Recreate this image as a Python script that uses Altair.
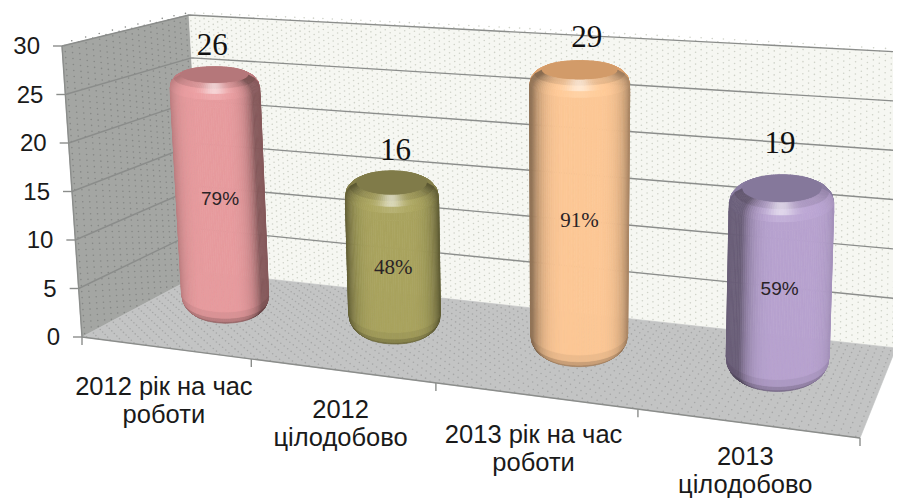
import numpy as np
import pandas as pd
import altair as alt

categories = ["2012 рік на час\nроботи", "2012\nцілодобово", "2013 рік на час\nроботи", "2013\nцілодобово"]
values = [26, 16, 29, 19]
shares = ["79%", "48%", "91%", "59%"]
share_fonts = ["Liberation Sans", "Liberation Serif", "Liberation Serif", "Liberation Sans"]
body_colors = ["#e89c9f", "#aaa45f", "#fdc896", "#b8a3d0"]
cap_colors = ["#b5777a", "#807b49", "#d29b69", "#85789b"]
light_shift = [-0.15, 0.0, 0.05, 0.25]
cyl_shift = [-9, -6, -2, 0]
height_trim = [0.1, 0.55, 0.15, 0.7]
value_nudge = [(-2, 0), (4, 1), (7, -2), (-2, -10)]
share_nudge = [3, 10, 7, 5]
y_ticks = [0, 5, 10, 15, 20, 25, 30]

# the box of the 3-D chart: its floor is a projective map of (category, depth)
def homography(src, dst):
    A = []
    for (x, y), (u, v) in zip(src, dst):
        A.append([x, y, 1, 0, 0, 0, -u*x, -u*y, -u])
        A.append([0, 0, 0, x, y, 1, -v*x, -v*y, -v])
    return np.linalg.svd(np.array(A, float))[2][-1].reshape(3, 3)

unit = [(0, 0), (4, 0), (4, 1), (0, 1)]
H_floor = homography(unit, [(82, 337), (860, 438), (896, 348), (204, 272)])

def proj(c, v, d):
    a = H_floor @ np.array([c, d, 1.0])
    a = a[:2] / a[2]
    s, d1 = c / 4, 1 - d
    # lean and height of the full 0-30 span, blended over the four corners of the floor
    dx = (1-s)*(d1*-20 + d*-15) + s*(d1*20 + d*5)
    hh = (1-s)*(d1*291 + d*257) + s*(d1*335 + d*296)
    f = v / 30
    return a[0] + dx * f, a[1] - hh * f

def mix(col, f, white=0.0):
    rgb = np.array([int(col[i:i+2], 16) for i in (1, 3, 5)], float) * f
    rgb = rgb + (255 - rgb) * white
    rgb = np.clip(rgb, 0, 255).astype(int)
    return "#%02x%02x%02x" % tuple(rgb)

polys = []
def add_poly(corners, fill, stroke=None):
    gid = len(polys)
    polys.append(gid)
    for i, (x, y) in enumerate(corners):
        rows.append(dict(px=x, py=y, gid=gid, o=i, fill=fill, stroke=stroke or fill))

rows = []
add_poly([proj(0,0,0), proj(0,30,0), proj(0,30,1), proj(0,0,1)], "#a4a6a3")
add_poly([proj(0,0,1), proj(0,30,1), proj(4,30,1), proj(4,0,1)], "#f6f7f2")
add_poly([proj(0,0,0), proj(0,0,1), proj(4,0,1), proj(4,0,0)], "#c3c4c4")
walls = pd.DataFrame(rows)

# dotted texture of the walls and the floor
dots = []
for i, c in enumerate(np.arange(0.01, 4.0, 0.029)):
    for j, v in enumerate(np.arange(0.2, 30, 0.62)):
        dots.append((*proj(c, v + (0.31 if i % 2 else 0), 1), "#cfd2c8"))
for i, c in enumerate(np.arange(0.02, 4.0, 0.036)):
    for j, d in enumerate(np.arange(0.01, 1.0, 0.05)):
        dots.append((*proj(c, 0, d + (0.025 if i % 2 else 0)), "#a6a7a7"))
for i, d in enumerate(np.arange(0.02, 1.0, 0.05)):
    for j, v in enumerate(np.arange(0.2, 30, 0.62)):
        dots.append((*proj(0, v + (0.31 if i % 2 else 0), d), "#868886"))
dots = pd.DataFrame(dots, columns=["px", "py", "col"])

# grid lines
grid = []
for v in y_ticks[1:]:
    for k, pt in enumerate([proj(0, v, 0), proj(0, v, 1), proj(4, v, 1)]):
        grid.append(dict(px=pt[0], py=pt[1], gid=v, o=k))
for k, pt in enumerate([proj(0,0,0), proj(4,0,0)]):
    grid.append(dict(px=pt[0], py=pt[1], gid=100, o=k))
for k, pt in enumerate([proj(0,0,0), proj(0,30,0)]):
    grid.append(dict(px=pt[0], py=pt[1], gid=101, o=k))
grid = pd.DataFrame(grid)

ticks = []
for v in y_ticks:
    x, y = proj(0, v, 0)
    ticks.append(dict(px=x - 9, px2=x, py=y, py2=y))
for c in range(5):
    x, y = proj(c, 0, 0)
    ticks.append(dict(px=x, px2=x, py=y, py2=y + 8))
ticks = pd.DataFrame(ticks)

# cylinders: upright ellipses at the projected centre of each category
rows = []
RD, DZ, VS = 0.30, 0.58, 0.97
nseg = 60
tops, bottoms, centres = [], [], []
for n, val in enumerate(values):
    cx = n + 0.5
    RX = 0.272 - 0.007 * n
    body, cap, ls = body_colors[n], cap_colors[n], light_shift[n]
    top = val * VS - height_trim[n]
    rings = [(0.0, .84, .62), (0.35, .93, .72), (0.8, .98, .88), (1.5, 1.0, 1.0),
             (top - 2.2, 1.0, 1.0), (top - 1.4, .995, 1.0), (top - 0.8, .965, 1.04),
             (top - 0.35, .89, 1.0), (top, .76, .86)]
    def ring_pt(t, h, q):
        x0, y0 = proj(cx, h, DZ)
        rx = (proj(cx + RX, h, DZ)[0] - proj(cx - RX, h, DZ)[0]) / 2
        ey = (proj(cx, h, DZ - RD)[1] - proj(cx, h, DZ + RD)[1]) / 2
        return x0 + cyl_shift[n] + rx * q * np.cos(t), y0 - ey * q * np.sin(t)
    ts = np.linspace(-np.pi, np.pi, 2 * nseg + 1)
    def quad(a, b, r0, r1):
        return [ring_pt(a, r0[0], r0[1]), ring_pt(b, r0[0], r0[1]),
                ring_pt(b, r1[0], r1[1]), ring_pt(a, r1[0], r1[1])]
    tops.append(ring_pt(np.pi / 2, top - 0.35, .89)[1])
    bottoms.append(ring_pt(-np.pi / 2, 0, .84)[1])
    centres.append((ring_pt(np.pi / 2, top, 0)[0], ring_pt(np.pi / 2, top / 2, 0)[0]))
    # back of the top bevel
    for a, b in zip(ts[:-1], ts[1:]):
        if np.sin((a + b) / 2) > 0:
            for r0, r1 in zip(rings[-4:-1], rings[-3:]):
                add_poly(quad(a, b, r0, r1), mix(cap, 1.05))
    # cap
    add_poly([ring_pt(t, top, .76) for t in ts[:-1]], cap)
    # front, bottom to top
    for ri, (r0, r1) in enumerate(zip(rings[:-1], rings[1:])):
        for a, b in zip(ts[:-1], ts[1:]):
            t = (a + b) / 2
            if np.sin(t) <= 0:
                nx = np.cos(t)
                f = 1 - 0.42 * min(1.0, abs(nx - ls)) ** 5
                f *= (r0[2] + r1[2]) / 2
                white = 0.0
                if ri >= 5:
                    white = 0.55 * np.exp(-(nx / 0.28) ** 2) * (1 if ri in (6, 7) else 0.2)
                add_poly(quad(a, b, r0, r1), mix(body, f, white))
cyl = pd.DataFrame(rows)

xs = alt.Scale(domain=[8, 893], nice=False, zero=False)
ys = alt.Scale(domain=[498, 8], nice=False, zero=False)
X = alt.X("px:Q", scale=xs, axis=None)
Y = alt.Y("py:Q", scale=ys, axis=None)

def polygons(df, width=0.7):
    return alt.Chart(df).mark_line(interpolate="linear-closed", strokeWidth=width).encode(
        x=X, y=Y, order="o:Q", detail="gid:N",
        fill=alt.Fill("fill:N", scale=None), stroke=alt.Stroke("stroke:N", scale=None))

wall_layer = polygons(walls)
dot_layer = alt.Chart(dots).mark_point(filled=True, size=2.5, opacity=1).encode(
    x=X, y=Y, color=alt.Color("col:N", scale=None))
grid_layer = alt.Chart(grid).mark_line(color="#8b8d8b", strokeWidth=1.4).encode(
    x=X, y=Y, order="o:Q", detail="gid:N")
tick_layer = alt.Chart(ticks).mark_rule(color="#8b8d8b", strokeWidth=1.4).encode(
    x=X, x2="px2:Q", y=Y, y2="py2:Q")
cyl_layer = polygons(cyl)

tick_text = pd.DataFrame([dict(px=proj(0, v, 0)[0] - 22, py=proj(0, v, 0)[1] + 1, t=str(v)) for v in y_ticks])
tick_labels = alt.Chart(tick_text).mark_text(font="Liberation Sans", fontSize=24, align="right",
                                            baseline="middle", color="#1a1a1a").encode(x=X, y=Y, text="t:N")

cat_text = pd.DataFrame([dict(px=proj(i + .5, 0, 0)[0] - 1, py=min(proj(i + .5, 0, 0)[1] + 27, 445), t=c)
                         for i, c in enumerate(categories)])
cat_labels = alt.Chart(cat_text).mark_text(font="Liberation Sans", fontSize=25.5, align="center",
                                           baseline="top", lineBreak="\n", lineHeight=28,
                                           color="#1a1a1a").encode(x=X, y=Y, text="t:N")

val_text = pd.DataFrame([dict(px=centres[i][0] + value_nudge[i][0],
                              py=tops[i] - 13 + value_nudge[i][1], t=str(v))
                         for i, v in enumerate(values)])
val_labels = alt.Chart(val_text).mark_text(font="Liberation Serif", fontSize=31, align="center",
                                           baseline="alphabetic", color="#111111").encode(x=X, y=Y, text="t:N")

pct_text = pd.DataFrame([dict(px=centres[i][1], py=(tops[i] + bottoms[i]) / 2 + share_nudge[i], t=s, fnt=share_fonts[i])
                         for i, (v, s) in enumerate(zip(values, shares))])
pct_layers = []
for fnt, size in [("Liberation Sans", 19), ("Liberation Serif", 21)]:
    pct_layers.append(alt.Chart(pct_text[pct_text.fnt == fnt]).mark_text(
        font=fnt, fontSize=size, align="center", baseline="middle", color="#2a2326").encode(x=X, y=Y, text="t:N"))

chart = alt.layer(wall_layer, dot_layer, grid_layer, tick_layer, cyl_layer, tick_labels, cat_labels,
                  val_labels, *pct_layers).properties(width=885, height=490, padding=0,
    autosize=alt.AutoSizeParams(type="none"), background="white").configure_view(stroke=None)
chart.save("out.html", embed_options={"renderer": "svg", "actions": False})
